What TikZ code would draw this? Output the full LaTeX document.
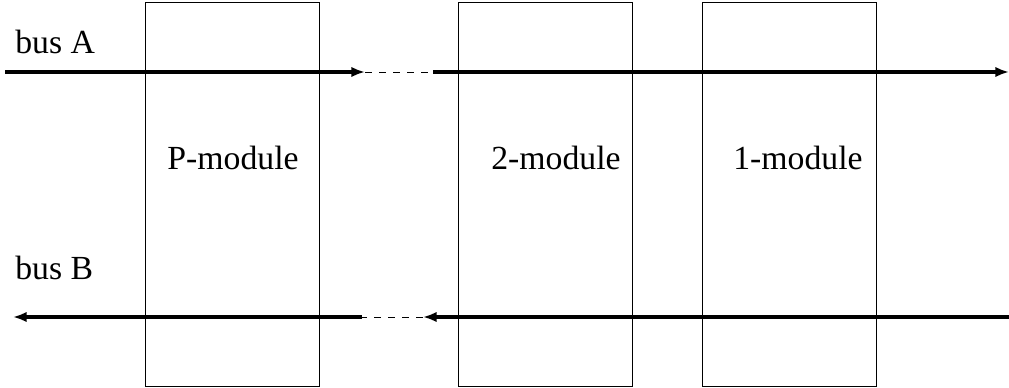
\documentclass[tikz,border=0pt]{standalone}
\usepackage{fontspec}
\setmainfont{Liberation Serif}
\usetikzlibrary{arrows.meta,positioning}

\tikzset{
	module/.style={draw,line width=0.6pt,minimum width=43.5mm,minimum height=96mm,inner sep=0pt},
	bus/.style={line width=2.8pt},
	busgap/.style={line width=0.7pt,dash pattern=on 5pt off 5pt},
	tip/.style={-{Latex[length=3.4mm,width=2.6mm]}},
	lbl/.style={font=\fontsize{24}{28}\selectfont,inner sep=0pt}
}

\begin{document}
\begin{tikzpicture}[x=0.25mm,y=-0.25mm]
	\useasboundingbox (0,0) rectangle (1009,388);
	% modules
	\node[module] (P) at (232.5,194) {};
	\node[module] (two) at (545.5,194) {};
	\node[module] (one) at (789.5,194) {};
	\node[lbl] (Plbl) at (233,158) {P-module};
	\node[lbl] (twolbl) at (556,158) {2-module};
	\node[lbl] (onelbl) at (798,158) {1-module};
	% bus A
	\node[lbl,anchor=base west] (busA) at (15,54) {bus A};
	\coordinate (a0) at (5,72);
	\coordinate (a1) at (365,72);
	\coordinate (a2) at (433,72);
	\coordinate (a3) at (1009,72);
	\draw[bus,tip] (a0) -- (a1);
	\draw[busgap] (a1) -- (a2);
	\draw[bus,tip] (a2) -- (a3);
	% bus B
	\node[lbl,anchor=base west] (busB) at (15,280) {bus B};
	\coordinate (b0) at (1009,317);
	\coordinate (b1) at (423,317);
	\coordinate (b2) at (362,317);
	\coordinate (b3) at (13,317);
	\draw[bus,tip] (b0) -- (b1);
	\draw[busgap] (b1) -- (b2);
	\draw[bus,tip] (b2) -- (b3);
\end{tikzpicture}
\end{document}
